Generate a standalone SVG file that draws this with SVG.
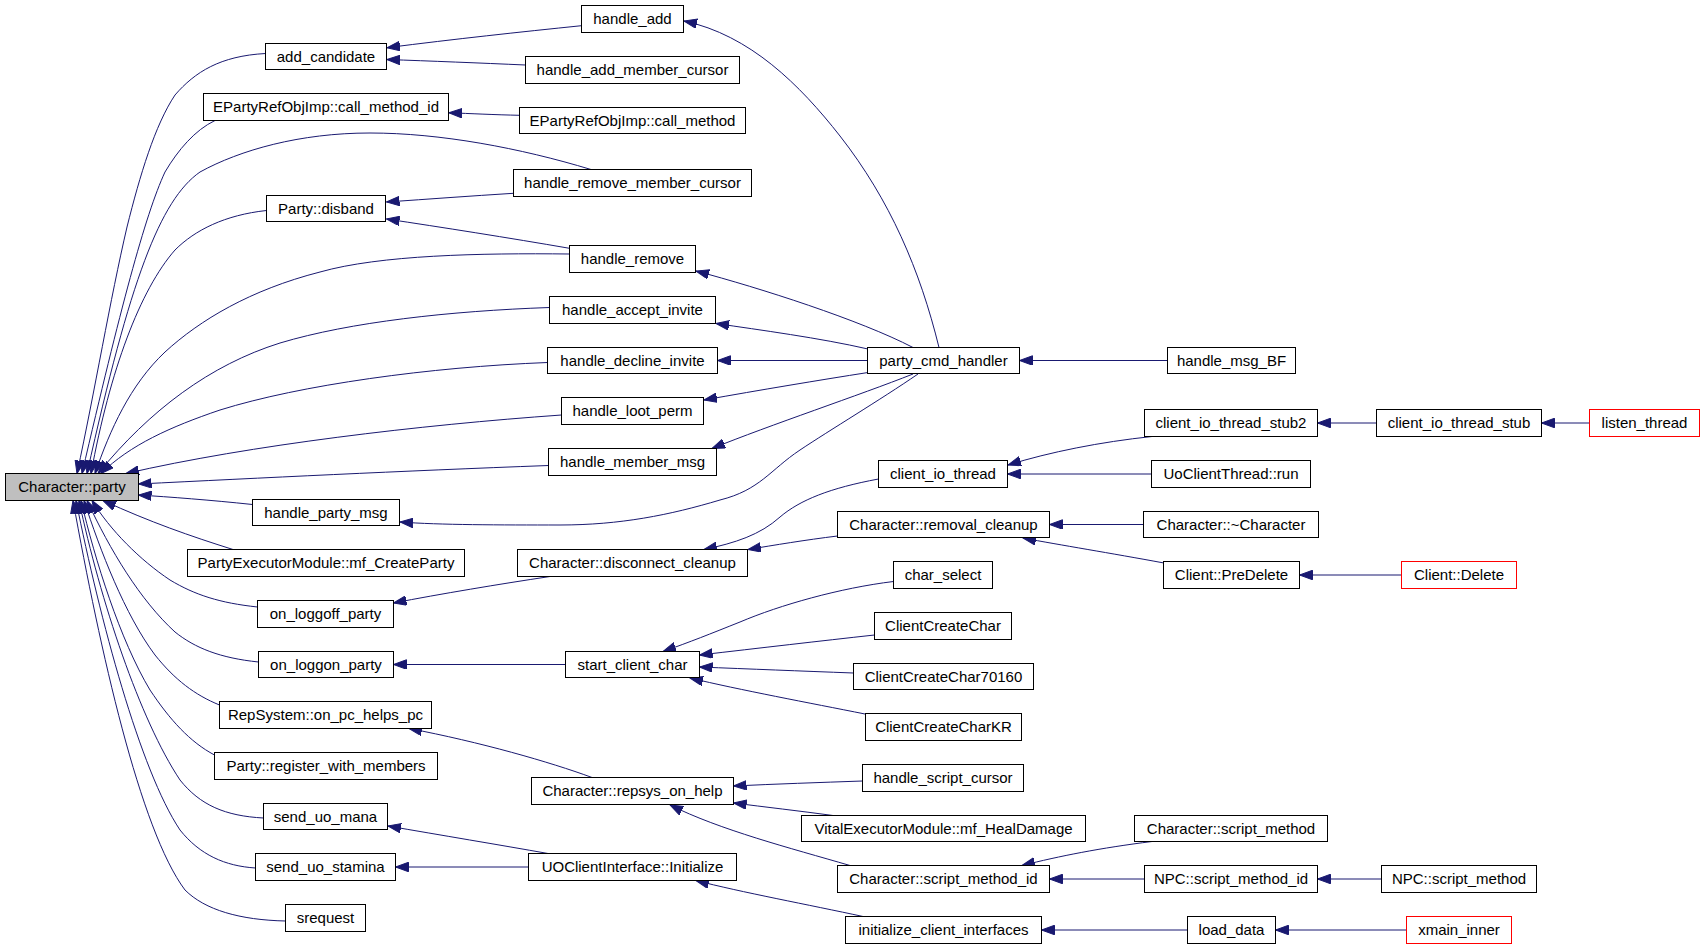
<svg xmlns="http://www.w3.org/2000/svg" width="1704" height="948" viewBox="0 0 1704 948">
<style>
.n rect{fill:#fff;stroke:#000;stroke-width:1}
.n text{font-family:"Liberation Sans",Arial,sans-serif;font-size:15px;text-anchor:middle;fill:#000}
.root rect{fill:#bfbfbf}
.red rect{stroke:#ff0000}
.e path{fill:none;stroke:#191970;stroke-width:1;marker-end:url(#ah)}
</style>
<defs>
<marker id="ah" markerWidth="14" markerHeight="10" refX="13" refY="4.75" orient="auto" markerUnits="userSpaceOnUse">
<path d="M0,0 L13,4.75 L0,9.5 z" fill="#191970" stroke="#191970" stroke-width="1"/>
</marker>
</defs>
<rect width="1704" height="948" fill="#fff"/>
<g id="connectors" class="e">
<path d="M581.5,25.7 C 520,32 455,39 387,47.7"/>
<path d="M525.5,65 C 480,63 430,61 387,59.5"/>
<path d="M519.5,115.3 C 495,114.8 470,113.5 449,112.8"/>
<path d="M513.5,193.3 C 470,196 430,199 386.5,202"/>
<path d="M569.5,248.3 C 510,238 440,227 386.5,219"/>
<path d="M939,347.5 C 920,270 890,200 840,136 C 800,85 750,35 684,21"/>
<path d="M913,347.5 C 860,320 760,288 696,271"/>
<path d="M868,349 C 820,338 760,330 716,323.5"/>
<path d="M867.5,360.5 L717.5,360.5"/>
<path d="M868,372.5 C 820,380 760,390 704,400"/>
<path d="M913,374 C 860,395 770,425 712,448.5"/>
<path d="M918,374 C 880,400 830,430 800,450 C 770,470 760,490 720,500 C 670,515 620,525 560,525 C 500,525 440,525 400,522"/>
<path d="M1167.5,360.5 L1019.5,360.5"/>
<path d="M1152,436.5 C 1100,442 1050,452 1008,465"/>
<path d="M1151.5,474 L1007.5,474"/>
<path d="M1376.5,423 L1317.5,423"/>
<path d="M1589.5,423 L1541.5,423"/>
<path d="M878.5,479 C 830,488 800,500 780,517 C 760,535 735,543 704,549.5"/>
<path d="M837.5,536 C 805,540 775,545 748,549.5"/>
<path d="M1143.5,524.5 L1049.5,524.5"/>
<path d="M1164,563 C 1110,553 1060,545 1023,538"/>
<path d="M1401.5,575 L1299.5,575"/>
<path d="M550,576.5 C 500,584 440,594 393.5,603"/>
<path d="M565.5,664.5 L393.5,664.5"/>
<path d="M893.5,581.5 C 840,588 780,605 740,622 C 710,634 690,642 663,651.5"/>
<path d="M874.5,635 C 820,641 760,648 699.5,655"/>
<path d="M853.5,673 C 800,671 750,669 699.5,667"/>
<path d="M865,714 C 810,703 740,690 690,678"/>
<path d="M592,777.5 C 550,762 480,742 409,728.5"/>
<path d="M862.5,781 C 820,782.5 775,784 733.5,786"/>
<path d="M833,815.5 C 800,811 765,807 733.5,803"/>
<path d="M850,865.5 C 790,848 720,830 670,805"/>
<path d="M1152,841.5 C 1100,848 1060,856 1022,865.5"/>
<path d="M1144.5,879 L1049.5,879"/>
<path d="M1381.5,879 L1317.5,879"/>
<path d="M548,853.5 C 500,845 440,835 388,826"/>
<path d="M528.5,867 L395.5,867"/>
<path d="M863,916.5 C 810,905 740,892 696,880.5"/>
<path d="M1187.5,930 L1041.5,930"/>
<path d="M1406.5,930 L1275.5,930"/>
<path d="M265.5,53.5 C 220,56 195,72 175,95 C 155,125 140,175 127,227 C 110,300 95,390 77,473.5"/>
<path d="M215,120.5 C 195,130 178,150 165,172 C 145,215 120,310 82,473.5"/>
<path d="M591,169.5 C 520,148 440,133 370,133 C 300,133 240,150 200,172 C 160,200 130,280 87,473.5"/>
<path d="M266.5,210.5 C 225,215 195,230 175,250 C 140,290 110,370 91,473.5"/>
<path d="M569.5,254 C 480,253 380,255 320,272 C 250,290 200,320 165,352 C 130,385 110,430 95,473.5"/>
<path d="M549.5,307.5 C 450,311 350,322 280,343 C 210,365 150,410 98,473.5"/>
<path d="M547.5,362.5 C 430,367 300,385 220,410 C 170,427 130,445 101,473.5"/>
<path d="M561.5,415 C 420,425 250,445 126,473.5"/>
<path d="M548.5,465.5 C 400,471 260,478 138.5,484"/>
<path d="M252.5,504.5 C 210,500 170,497 138.5,495"/>
<path d="M233,549.5 C 190,536 150,522 103,500.5"/>
<path d="M257.5,607 C 220,603 195,595 170,580 C 140,560 110,530 92,500.5"/>
<path d="M258.5,662 C 220,658 195,648 175,632 C 140,600 110,550 87,500.5"/>
<path d="M219.5,705 C 195,695 175,680 155,655 C 125,615 100,550 84,500.5"/>
<path d="M214.5,755 C 190,742 170,720 150,690 C 120,640 95,560 81,500.5"/>
<path d="M263.5,818 C 225,816 200,805 180,780 C 140,720 100,600 79,500.5"/>
<path d="M255.5,868 C 225,866 200,855 180,830 C 140,770 100,620 76,500.5"/>
<path d="M285.5,921 C 240,920 205,910 185,890 C 140,830 100,650 73,500.5"/>
</g>
<g id="n_party" class="n root"><rect x="5.5" y="473.5" width="133" height="27"/><text x="72" y="492">Character::party</text></g>
<g id="n_handle_add" class="n"><rect x="581.5" y="5.5" width="102" height="27"/><text x="632.5" y="24">handle_add</text></g>
<g id="n_add_candidate" class="n"><rect x="265.5" y="43.5" width="121" height="26"/><text x="326" y="61.5">add_candidate</text></g>
<g id="n_handle_add_member_cursor" class="n"><rect x="525.5" y="56.5" width="214" height="27"/><text x="632.5" y="75">handle_add_member_cursor</text></g>
<g id="n_call_method_id" class="n"><rect x="203.5" y="93.5" width="245" height="27"/><text x="326" y="112">EPartyRefObjImp::call_method_id</text></g>
<g id="n_call_method" class="n"><rect x="519.5" y="107.5" width="226" height="26"/><text x="632.5" y="125.5">EPartyRefObjImp::call_method</text></g>
<g id="n_handle_remove_member_cursor" class="n"><rect x="513.5" y="169.5" width="238" height="27"/><text x="632.5" y="188">handle_remove_member_cursor</text></g>
<g id="n_disband" class="n"><rect x="266.5" y="195.5" width="119" height="26"/><text x="326" y="213.5">Party::disband</text></g>
<g id="n_handle_remove" class="n"><rect x="569.5" y="245.5" width="126" height="27"/><text x="632.5" y="264">handle_remove</text></g>
<g id="n_handle_accept_invite" class="n"><rect x="549.5" y="296.5" width="166" height="27"/><text x="632.5" y="315">handle_accept_invite</text></g>
<g id="n_handle_decline_invite" class="n"><rect x="547.5" y="347.5" width="170" height="26"/><text x="632.5" y="365.5">handle_decline_invite</text></g>
<g id="n_handle_loot_perm" class="n"><rect x="561.5" y="397.5" width="142" height="27"/><text x="632.5" y="416">handle_loot_perm</text></g>
<g id="n_handle_member_msg" class="n"><rect x="548.5" y="448.5" width="168" height="27"/><text x="632.5" y="467">handle_member_msg</text></g>
<g id="n_handle_party_msg" class="n"><rect x="252.5" y="499.5" width="147" height="26"/><text x="326" y="517.5">handle_party_msg</text></g>
<g id="n_mf_CreateParty" class="n"><rect x="187.5" y="549.5" width="277" height="27"/><text x="326" y="568">PartyExecutorModule::mf_CreateParty</text></g>
<g id="n_disconnect_cleanup" class="n"><rect x="517.5" y="549.5" width="230" height="27"/><text x="632.5" y="568">Character::disconnect_cleanup</text></g>
<g id="n_on_loggoff_party" class="n"><rect x="257.5" y="600.5" width="136" height="27"/><text x="325.5" y="619">on_loggoff_party</text></g>
<g id="n_on_loggon_party" class="n"><rect x="258.5" y="651.5" width="135" height="26"/><text x="326" y="669.5">on_loggon_party</text></g>
<g id="n_start_client_char" class="n"><rect x="565.5" y="651.5" width="134" height="26"/><text x="632.5" y="669.5">start_client_char</text></g>
<g id="n_on_pc_helps_pc" class="n"><rect x="219.5" y="701.5" width="212" height="27"/><text x="325.5" y="720">RepSystem::on_pc_helps_pc</text></g>
<g id="n_register_with_members" class="n"><rect x="214.5" y="752.5" width="223" height="27"/><text x="326" y="771">Party::register_with_members</text></g>
<g id="n_repsys_on_help" class="n"><rect x="531.5" y="777.5" width="202" height="27"/><text x="632.5" y="796">Character::repsys_on_help</text></g>
<g id="n_send_uo_mana" class="n"><rect x="263.5" y="803.5" width="124" height="26"/><text x="325.5" y="821.5">send_uo_mana</text></g>
<g id="n_send_uo_stamina" class="n"><rect x="255.5" y="853.5" width="140" height="27"/><text x="325.5" y="872">send_uo_stamina</text></g>
<g id="n_UOClientInterface_Initialize" class="n"><rect x="528.5" y="853.5" width="208" height="27"/><text x="632.5" y="872">UOClientInterface::Initialize</text></g>
<g id="n_srequest" class="n"><rect x="285.5" y="904.5" width="80" height="27"/><text x="325.5" y="923">srequest</text></g>
<g id="n_party_cmd_handler" class="n"><rect x="867.5" y="347.5" width="152" height="26"/><text x="943.5" y="365.5">party_cmd_handler</text></g>
<g id="n_handle_msg_BF" class="n"><rect x="1167.5" y="347.5" width="128" height="26"/><text x="1231.5" y="365.5">handle_msg_BF</text></g>
<g id="n_client_io_thread_stub2" class="n"><rect x="1144.5" y="409.5" width="173" height="27"/><text x="1231" y="428">client_io_thread_stub2</text></g>
<g id="n_client_io_thread_stub" class="n"><rect x="1376.5" y="409.5" width="165" height="27"/><text x="1459" y="428">client_io_thread_stub</text></g>
<g id="n_listen_thread" class="n red"><rect x="1589.5" y="409.5" width="110" height="27"/><text x="1644.5" y="428">listen_thread</text></g>
<g id="n_client_io_thread" class="n"><rect x="878.5" y="460.5" width="129" height="27"/><text x="943" y="479">client_io_thread</text></g>
<g id="n_UoClientThread_run" class="n"><rect x="1151.5" y="460.5" width="159" height="27"/><text x="1231" y="479">UoClientThread::run</text></g>
<g id="n_removal_cleanup" class="n"><rect x="837.5" y="511.5" width="212" height="26"/><text x="943.5" y="529.5">Character::removal_cleanup</text></g>
<g id="n_Character_dtor" class="n"><rect x="1143.5" y="511.5" width="175" height="26"/><text x="1231" y="529.5">Character::~Character</text></g>
<g id="n_char_select" class="n"><rect x="893.5" y="561.5" width="99" height="27"/><text x="943" y="580">char_select</text></g>
<g id="n_Client_PreDelete" class="n"><rect x="1163.5" y="561.5" width="136" height="27"/><text x="1231.5" y="580">Client::PreDelete</text></g>
<g id="n_Client_Delete" class="n red"><rect x="1401.5" y="561.5" width="115" height="27"/><text x="1459" y="580">Client::Delete</text></g>
<g id="n_ClientCreateChar" class="n"><rect x="874.5" y="612.5" width="137" height="27"/><text x="943" y="631">ClientCreateChar</text></g>
<g id="n_ClientCreateChar70160" class="n"><rect x="853.5" y="663.5" width="180" height="26"/><text x="943.5" y="681.5">ClientCreateChar70160</text></g>
<g id="n_ClientCreateCharKR" class="n"><rect x="865.5" y="713.5" width="156" height="27"/><text x="943.5" y="732">ClientCreateCharKR</text></g>
<g id="n_handle_script_cursor" class="n"><rect x="862.5" y="764.5" width="161" height="27"/><text x="943" y="783">handle_script_cursor</text></g>
<g id="n_mf_HealDamage" class="n"><rect x="801.5" y="815.5" width="284" height="26"/><text x="943.5" y="833.5">VitalExecutorModule::mf_HealDamage</text></g>
<g id="n_Character_script_method" class="n"><rect x="1134.5" y="815.5" width="193" height="26"/><text x="1231" y="833.5">Character::script_method</text></g>
<g id="n_Character_script_method_id" class="n"><rect x="837.5" y="865.5" width="212" height="27"/><text x="943.5" y="884">Character::script_method_id</text></g>
<g id="n_NPC_script_method_id" class="n"><rect x="1144.5" y="865.5" width="173" height="27"/><text x="1231" y="884">NPC::script_method_id</text></g>
<g id="n_NPC_script_method" class="n"><rect x="1381.5" y="865.5" width="155" height="27"/><text x="1459" y="884">NPC::script_method</text></g>
<g id="n_initialize_client_interfaces" class="n"><rect x="845.5" y="916.5" width="196" height="27"/><text x="943.5" y="935">initialize_client_interfaces</text></g>
<g id="n_load_data" class="n"><rect x="1187.5" y="916.5" width="88" height="27"/><text x="1231.5" y="935">load_data</text></g>
<g id="n_xmain_inner" class="n red"><rect x="1406.5" y="916.5" width="105" height="27"/><text x="1459" y="935">xmain_inner</text></g>
</svg>
